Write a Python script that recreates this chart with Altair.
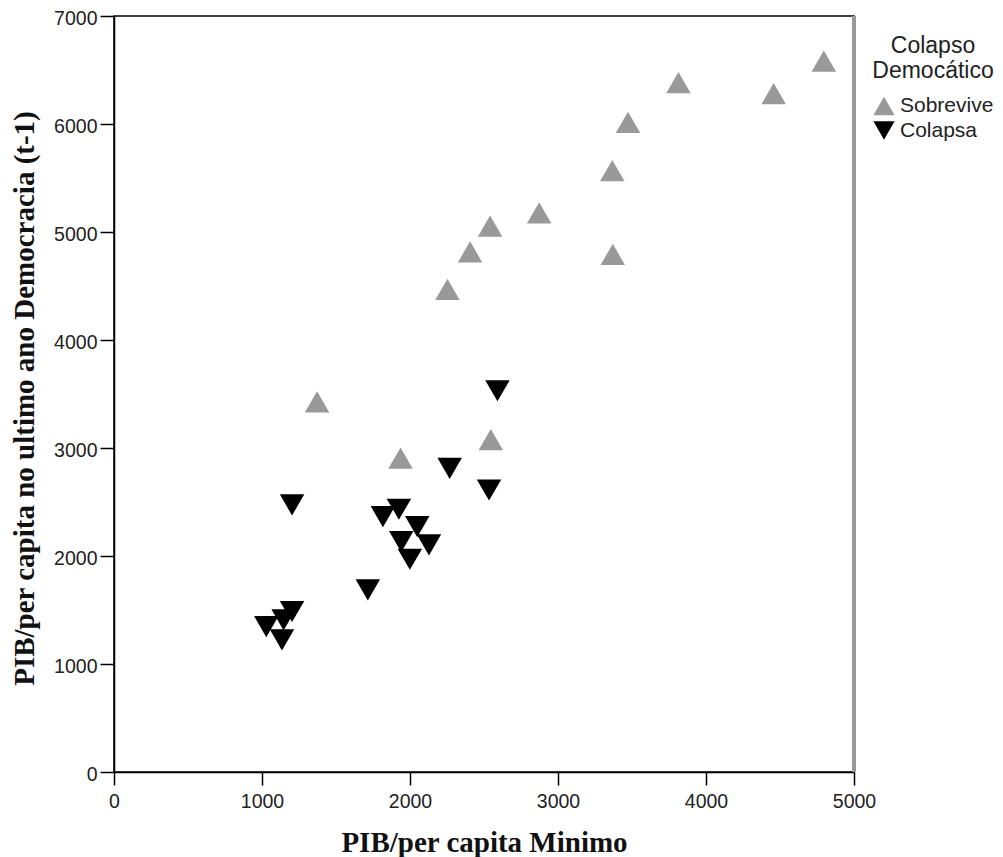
import altair as alt
import pandas as pd

# Data
sob_x = [1372, 1936, 2546, 2253, 2406, 2541, 2873, 3367, 3370, 3473, 3814, 4457, 4796]
sob_y = [3428, 2907, 3077, 4468, 4816, 5054, 5177, 5569, 4792, 6016, 6383, 6281, 6583]
col_x = [2591, 2268, 2534, 1203, 1925, 1817, 2049, 1941, 2128, 1999, 1715, 1203, 1146, 1029, 1135]
col_y = [3530, 2812, 2611, 2473, 2433, 2364, 2272, 2133, 2103, 1970, 1686, 1486, 1409, 1347, 1224]
categories = ["Sobrevive", "Colapsa"]
x_ticks = [0, 1000, 2000, 3000, 4000, 5000]
y_ticks = [0, 1000, 2000, 3000, 4000, 5000, 6000, 7000]

df = pd.DataFrame({
    "x": sob_x + col_x,
    "y": sob_y + col_y,
    "grupo": [categories[0]] * len(sob_x) + [categories[1]] * len(col_x),
})

x_enc = alt.X("x:Q", scale=alt.Scale(domain=[0, 5000], nice=False),
              axis=alt.Axis(values=x_ticks, format="d", title="PIB/per capita Minimo",
                            tickSize=13, labelPadding=7, labelFlush=False,
                            titleX=370, titleY=79, titleBaseline="alphabetic",
                            titleAlign="center"))
y_enc = alt.Y("y:Q", scale=alt.Scale(domain=[0, 7000], nice=False),
              axis=alt.Axis(values=y_ticks, format="d",
                            title="PIB/per capita no ultimo ano Democracia (t-1)",
                            tickSize=14, labelPadding=3, labelOffset=2, labelFlush=False,
                            titleX=-81, titleY=382, titleBaseline="alphabetic",
                            titleAlign="center", titleAngle=270))

points = alt.Chart(df).mark_point(filled=True, size=600, opacity=1).encode(
    x=x_enc,
    y=y_enc,
    shape=alt.Shape("grupo:N",
                    scale=alt.Scale(domain=categories, range=["triangle-up", "triangle-down"]),
                    legend=alt.Legend(title=["Colapso", "Democático"])),
    color=alt.Color("grupo:N",
                    scale=alt.Scale(domain=categories, range=["#999999", "#000000"]),
                    legend=alt.Legend(title=["Colapso", "Democático"])),
)

right_edge = alt.Chart(df).mark_rule(color="#999999", strokeWidth=3).encode(
    x=alt.datum(5000)
)

chart = alt.layer(right_edge, points).properties(
    width=740,
    height=756,
    autosize=alt.AutoSizeParams(type="none"),
    padding={"left": 106, "top": 8, "right": 141, "bottom": 95},
).configure_view(
    stroke="black", strokeWidth=1.5
).configure_axis(
    grid=False,
    domainColor="black", domainWidth=1.5,
    tickColor="black", tickWidth=1.5,
    labelFont="Liberation Sans", labelFontSize=19.5, labelColor="#222222",
    titleFont="Liberation Serif", titleFontSize=29, titleFontWeight="bold",
    titleColor="#111111",
).configure_legend(
    orient="none", legendX=758, legendY=19, padding=0,
    titleFont="Liberation Sans", titleFontSize=23, titleFontWeight="normal",
    titleColor="#222222", titleAnchor="middle", titleAlign="center",
    titleLineHeight=25, titlePadding=12,
    labelFont="Liberation Sans", labelFontSize=21, labelColor="#222222",
    symbolSize=450, symbolStrokeWidth=0, rowPadding=3.5, labelOffset=5,
)

chart.save("out.html", embed_options={"renderer": "svg", "actions": False})
